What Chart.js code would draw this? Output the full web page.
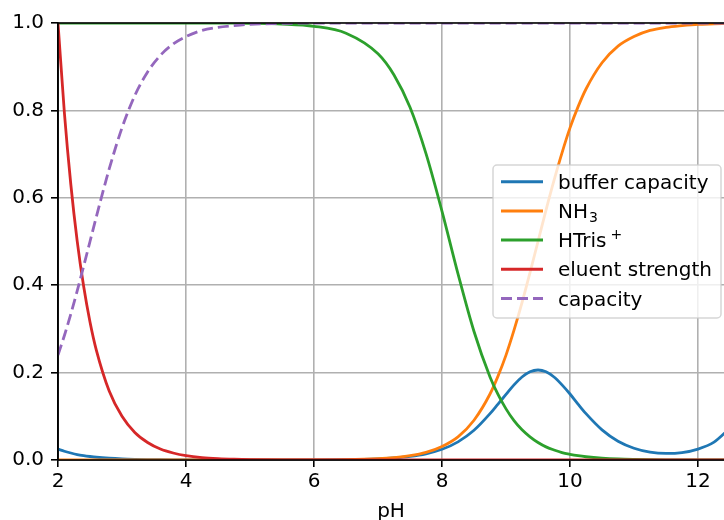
<!DOCTYPE html>
<html>
<head>
<meta charset="utf-8">
<script src="https://cdn.jsdelivr.net/npm/chart.js@4"></script>
<style>
  html, body { margin: 0; padding: 0; background: #fff; overflow: hidden; }
  canvas { display: block; }
</style>
</head>
<body>
<canvas id="bufferChart" width="724" height="520"></canvas>
<script>
// pH points the curves were read at
const pH = [2.0, 2.1, 2.2, 2.3, 2.4, 2.5, 2.6, 2.8, 3.0, 3.2, 3.4, 3.6, 3.8, 4.0,
  4.25, 4.5, 4.75, 5.0, 5.5, 6.0, 6.5, 7.0, 7.25, 7.5, 7.75, 8.0, 8.25, 8.5, 8.75,
  8.875, 9.0, 9.125, 9.25, 9.375, 9.5, 9.625, 9.75, 9.875, 10.0, 10.125, 10.25,
  10.5, 10.75, 11.0, 11.25, 11.5, 11.75, 12.0, 12.25, 12.5];

const bufferCapacity = [0.025, 0.020, 0.016, 0.0125, 0.010, 0.008, 0.0063, 0.004, 0.0025, 0.0016,
  0.001, 0.0006, 0.0004, 0.0003, 0.0001, 0, 0, 0, 0.0001, 0.0003, 0.0008, 0.0026, 0.0046, 0.0081,
  0.0142, 0.0245, 0.0415, 0.068, 0.106,
  0.128, 0.150, 0.172, 0.190, 0.202, 0.206, 0.202, 0.190, 0.172, 0.151, 0.128, 0.106,
  0.069, 0.043, 0.027, 0.018, 0.015, 0.017, 0.025, 0.041, 0.073];

const nh3 = [0, 0, 0, 0, 0, 0, 0, 0, 0, 0, 0, 0, 0, 0, 0, 0, 0, 0, 0.0001, 0.0003, 0.001, 0.0032,
  0.0056, 0.0099, 0.0175, 0.031, 0.053, 0.091, 0.151,
  0.192, 0.240, 0.297, 0.360, 0.429, 0.500, 0.572, 0.640, 0.703, 0.760, 0.808, 0.849,
  0.909, 0.947, 0.969, 0.983, 0.990, 0.994, 0.997, 0.998, 0.999];

const hTris = [1, 1, 1, 1, 1, 1, 1, 1, 1, 1, 1, 1, 1, 1, 0.9999, 0.9998, 0.9996, 0.9992, 0.9976,
  0.9925, 0.9766, 0.9295, 0.881, 0.807, 0.701, 0.569, 0.426, 0.294, 0.190,
  0.150, 0.117, 0.090, 0.069, 0.053, 0.040, 0.030, 0.023, 0.017, 0.013, 0.0098, 0.0074,
  0.0042, 0.0023, 0.0013, 0.0007, 0.0004, 0.0002, 0.0001, 0, 0];

const eluentStrength = [1.0, 0.794, 0.631, 0.501, 0.398, 0.316, 0.251, 0.158, 0.100, 0.063, 0.040,
  0.025, 0.016, 0.010, 0.0056, 0.0032, 0.0018, 0.001, 0.0003, 0.0001, 0, 0, 0, 0, 0, 0, 0, 0, 0,
  0, 0, 0, 0, 0, 0, 0, 0, 0, 0, 0, 0,
  0, 0, 0, 0, 0, 0, 0, 0, 0];

const capacity = [0.240, 0.285, 0.334, 0.387, 0.443, 0.500, 0.557, 0.666, 0.760, 0.834, 0.888,
  0.926, 0.952, 0.969, 0.983, 0.990, 0.994, 0.997, 0.999, 1, 1, 1, 1, 1, 1, 1, 1, 1, 1,
  1, 1, 1, 1, 1, 1, 1, 1, 1, 1, 1, 1,
  1, 1, 1, 1, 1, 1, 1, 1, 1];

const xTicks = [2, 4, 6, 8, 10, 12];
const yTicks = [0, 0.2, 0.4, 0.6, 0.8, 1.0];

const seriesNames = ["buffer capacity", "NH3", "HTris+", "eluent strength", "capacity"];
const seriesColors = ["#1f77b4", "#ff7f0e", "#2ca02c", "#d62728", "#9467bd"];
const seriesData = [bufferCapacity, nh3, hTris, eluentStrength, capacity];

const FONT = "'DejaVu Sans', sans-serif";
const DASH = [11, 5];

const toPoints = (ys) => pH.map((x, i) => ({ x: x, y: ys[i] }));

// matplotlib draws spines over the lines, so redo them afterwards
const spinesPlugin = {
  id: "spines",
  afterDatasetsDraw(chart) {
    const { ctx, chartArea: a } = chart;
    ctx.save();
    ctx.strokeStyle = "#000";
    ctx.lineWidth = 1.6;
    ctx.beginPath();
    ctx.moveTo(a.right + 2, a.top);
    ctx.lineTo(a.left, a.top);
    ctx.lineTo(a.left, a.bottom);
    ctx.lineTo(a.right + 2, a.bottom);
    ctx.stroke();
    ctx.restore();
  },
};

// legend box sitting inside the plot, like the matplotlib one
const legendPlugin = {
  id: "boxLegend",
  afterDraw(chart) {
    const ctx = chart.ctx;
    const x0 = 493, y0 = 165, w = 228, h = 153, r = 4;
    ctx.save();
    ctx.beginPath();
    ctx.roundRect(x0, y0, w, h, r);
    ctx.fillStyle = "rgba(255,255,255,0.8)";
    ctx.fill();
    ctx.strokeStyle = "rgba(204,204,204,0.8)";
    ctx.lineWidth = 1.5;
    ctx.stroke();

    seriesNames.forEach((name, i) => {
      const y = 181.7 + i * 29.2;
      ctx.beginPath();
      ctx.setLineDash(i === 4 ? DASH : []);
      ctx.strokeStyle = seriesColors[i];
      ctx.lineWidth = 3;
      ctx.moveTo(501, y);
      ctx.lineTo(543, y);
      ctx.stroke();
      ctx.setLineDash([]);

      ctx.fillStyle = "#000";
      ctx.textBaseline = "alphabetic";
      ctx.textAlign = "left";
      ctx.font = "20px " + FONT;
      const base = y + 7;
      if (name === "NH3") {
        ctx.fillText("NH", 558, base);
        const wNH = ctx.measureText("NH").width;
        ctx.font = "14px " + FONT;
        ctx.fillText("3", 558 + wNH + 1, base + 4);
      } else if (name === "HTris+") {
        ctx.fillText("HTris", 558, base);
        const wT = ctx.measureText("HTris").width;
        ctx.font = "14px " + FONT;
        ctx.fillText("+", 558 + wT + 4, base - 8);
      } else {
        ctx.fillText(name, 558, base);
      }
    });
    ctx.restore();
  },
};

const ctx = document.getElementById("bufferChart").getContext("2d");
const chart = new Chart(ctx, {
  type: "line",
  data: {
    datasets: seriesData.map((ys, i) => ({
      label: seriesNames[i],
      data: toPoints(ys),
      borderColor: seriesColors[i],
      backgroundColor: seriesColors[i],
      borderWidth: 2.8,
      borderDash: i === 4 ? DASH : [],
      pointRadius: 0,
      cubicInterpolationMode: "monotone",
      fill: false,
      clip: 0,
      order: 4 - i, // later series on top, as in matplotlib
    })),
  },
  options: {
    responsive: false,
    devicePixelRatio: 1,
    animation: false,
    layout: { padding: { top: 23, right: 0, left: 0, bottom: 0 } },
    scales: {
      x: {
        type: "linear",
        min: 2,
        max: 12.406,
        afterFit: (s) => { s.height = 60; },
        afterBuildTicks: (s) => { s.ticks = xTicks.map((v) => ({ value: v })); },
        ticks: {
          color: "#000",
          font: { family: FONT, size: 20 },
          padding: 3,
          maxRotation: 0,
          callback: (v) => String(v),
        },
        grid: { color: "#b0b0b0", lineWidth: 1.6, tickLength: 7, tickColor: "#000" },
        border: { display: true, color: "#000", width: 1.6 },
        title: {
          display: true,
          text: "pH",
          color: "#000",
          font: { family: FONT, size: 20, lineHeight: 1.2 },
          padding: { top: 0, bottom: -4 },
        },
      },
      y: {
        min: 0,
        max: 1,
        afterFit: (s) => { s.width = 58; },
        afterBuildTicks: (s) => { s.ticks = yTicks.map((v) => ({ value: v })); },
        ticks: {
          color: "#000",
          font: { family: FONT, size: 20 },
          padding: 7,
          callback: (v) => v.toFixed(1),
        },
        grid: { color: "#b0b0b0", lineWidth: 1.6, tickLength: 7, tickColor: "#000" },
        border: { display: true, color: "#000", width: 1.6 },
      },
    },
    plugins: {
      legend: { display: false },
      tooltip: { enabled: false },
    },
  },
  plugins: [spinesPlugin, legendPlugin],
});
</script>
</body>
</html>
